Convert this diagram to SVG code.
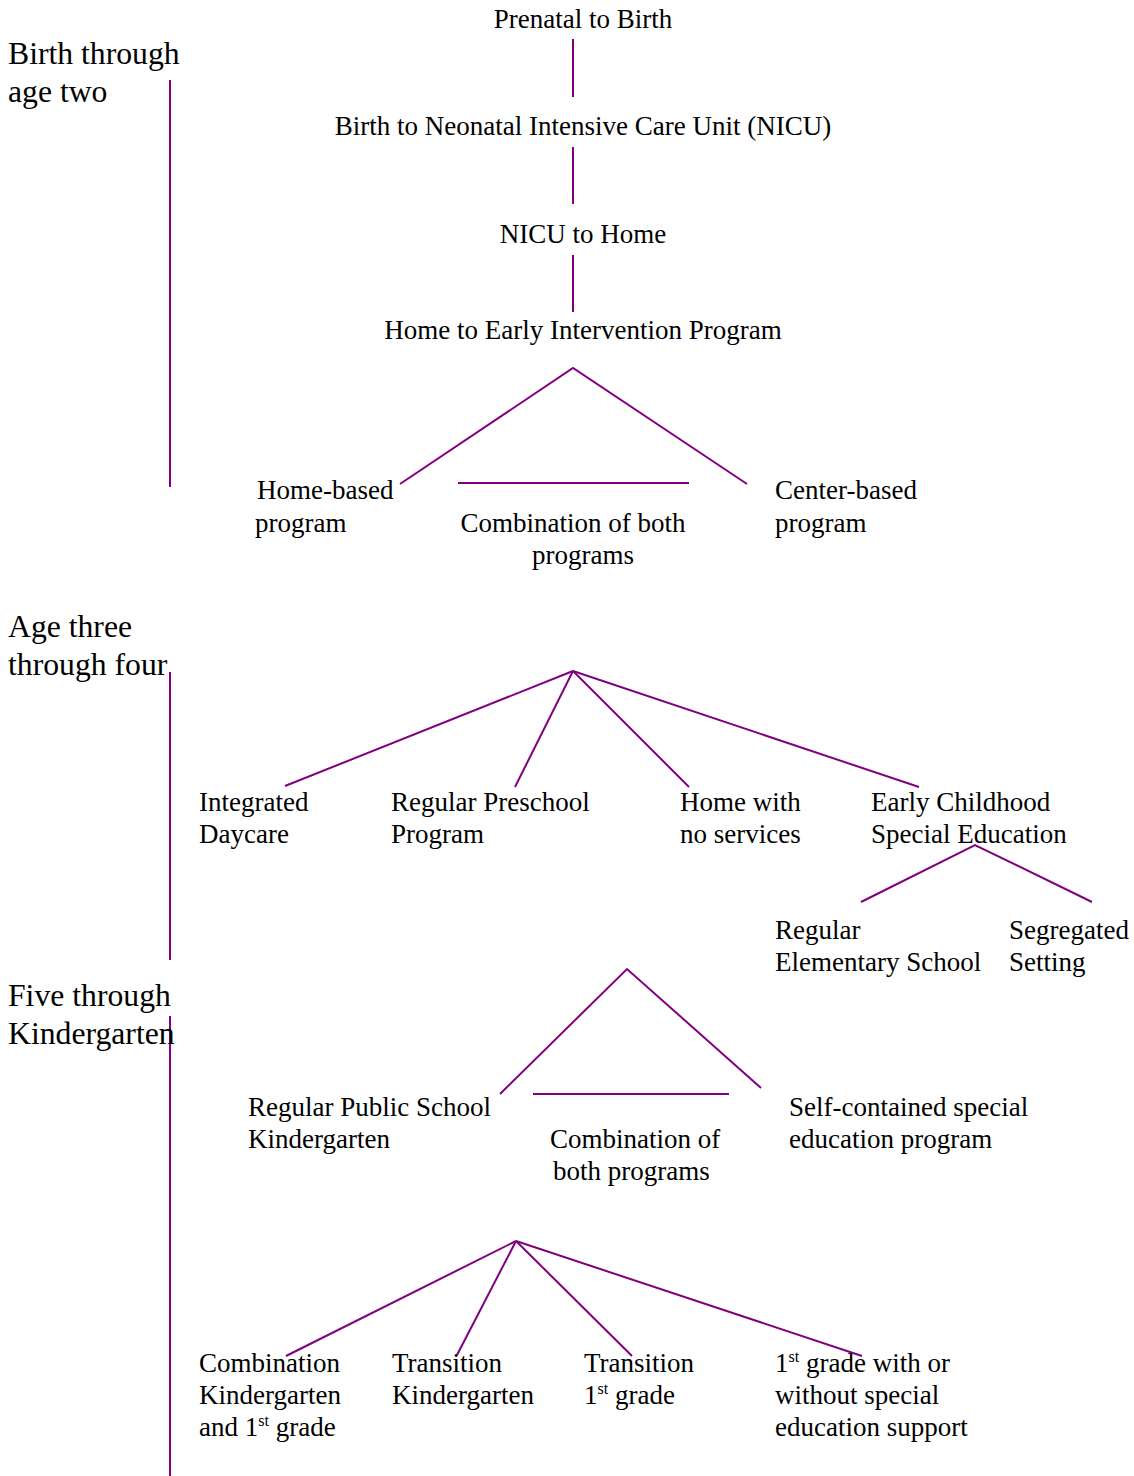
<svg xmlns="http://www.w3.org/2000/svg" width="1134" height="1476" viewBox="0 0 1134 1476">
<style>
text{font-family:"Liberation Serif","Times New Roman",serif;fill:#000;font-size:27px}
.side{font-size:31.7px}
.sup{font-size:16px}
#connectors line,#connectors polyline{stroke:#800080;stroke-width:2;fill:none}
</style>
<rect width="1134" height="1476" fill="#fff"/>
<g id="connectors">
<line x1="170" y1="80" x2="170" y2="487"/>
<line x1="170" y1="672" x2="170" y2="960"/>
<line x1="170" y1="1016" x2="170" y2="1476"/>
<line x1="573" y1="39" x2="573" y2="97"/>
<line x1="573" y1="147" x2="573" y2="204"/>
<line x1="573" y1="255" x2="573" y2="312"/>
<polyline points="400,484 573,368 747,484"/>
<line x1="458" y1="483" x2="689" y2="483"/>
<line x1="573" y1="671" x2="285" y2="786"/>
<line x1="573" y1="671" x2="515" y2="787"/>
<line x1="573" y1="671" x2="689" y2="787"/>
<line x1="573" y1="671" x2="919" y2="787"/>
<polyline points="861,902 975,845 1092,902"/>
<polyline points="500,1094 627,969 761,1088"/>
<line x1="533" y1="1094" x2="729" y2="1094"/>
<line x1="516" y1="1241" x2="286" y2="1356"/>
<line x1="516" y1="1241" x2="457" y2="1355"/>
<line x1="516" y1="1241" x2="632" y2="1356"/>
<line x1="516" y1="1241" x2="862" y2="1356"/>
</g>
<g id="label-birth-two"><text class="side" x="8" y="64">Birth through</text><text class="side" x="8" y="102">age two</text></g>
<g id="label-three-four"><text class="side" x="8" y="637">Age three</text><text class="side" x="8" y="675">through four</text></g>
<g id="label-five-k"><text class="side" x="8" y="1006">Five through</text><text class="side" x="8" y="1044">Kindergarten</text></g>
<g id="n-prenatal"><text x="583" y="28" text-anchor="middle">Prenatal to Birth</text></g>
<g id="n-nicu"><text x="583" y="135" text-anchor="middle">Birth to Neonatal Intensive Care Unit (NICU)</text></g>
<g id="n-home"><text x="583" y="243" text-anchor="middle">NICU to Home</text></g>
<g id="n-ei"><text x="583" y="339" text-anchor="middle">Home to Early Intervention Program</text></g>
<g id="n-homebased"><text x="257" y="499">Home-based</text><text x="255" y="532">program</text></g>
<g id="n-comb1"><text x="573" y="532" text-anchor="middle">Combination of both</text><text x="583" y="564" text-anchor="middle">programs</text></g>
<g id="n-centerbased"><text x="775" y="499">Center-based</text><text x="775" y="532">program</text></g>
<g id="n-daycare"><text x="199" y="811">Integrated</text><text x="199" y="843">Daycare</text></g>
<g id="n-preschool"><text x="391" y="811">Regular Preschool</text><text x="391" y="843">Program</text></g>
<g id="n-noservices"><text x="680" y="811">Home with</text><text x="680" y="843">no services</text></g>
<g id="n-ecse"><text x="871" y="811">Early Childhood</text><text x="871" y="843">Special Education</text></g>
<g id="n-regelem"><text x="775" y="939">Regular</text><text x="775" y="971">Elementary School</text></g>
<g id="n-segregated"><text x="1009" y="939">Segregated</text><text x="1009" y="971">Setting</text></g>
<g id="n-regk"><text x="248" y="1116">Regular Public School</text><text x="248" y="1148">Kindergarten</text></g>
<g id="n-comb2"><text x="550" y="1148">Combination of</text><text x="553" y="1180">both programs</text></g>
<g id="n-selfcont"><text x="789" y="1116">Self-contained special</text><text x="789" y="1148">education program</text></g>
<g id="n-combk1"><text x="199" y="1372">Combination</text><text x="199" y="1404">Kindergarten</text><text x="199" y="1436">and 1<tspan class="sup" dy="-10">st</tspan><tspan dy="10"> grade</tspan></text></g>
<g id="n-transk"><text x="392" y="1372">Transition</text><text x="392" y="1404">Kindergarten</text></g>
<g id="n-trans1"><text x="584" y="1372">Transition</text><text x="584" y="1404">1<tspan class="sup" dy="-10">st</tspan><tspan dy="10"> grade</tspan></text></g>
<g id="n-first"><text x="775" y="1372">1<tspan class="sup" dy="-10">st</tspan><tspan dy="10"> grade with or</tspan></text><text x="775" y="1404">without special</text><text x="775" y="1436">education support</text></g>
</svg>
